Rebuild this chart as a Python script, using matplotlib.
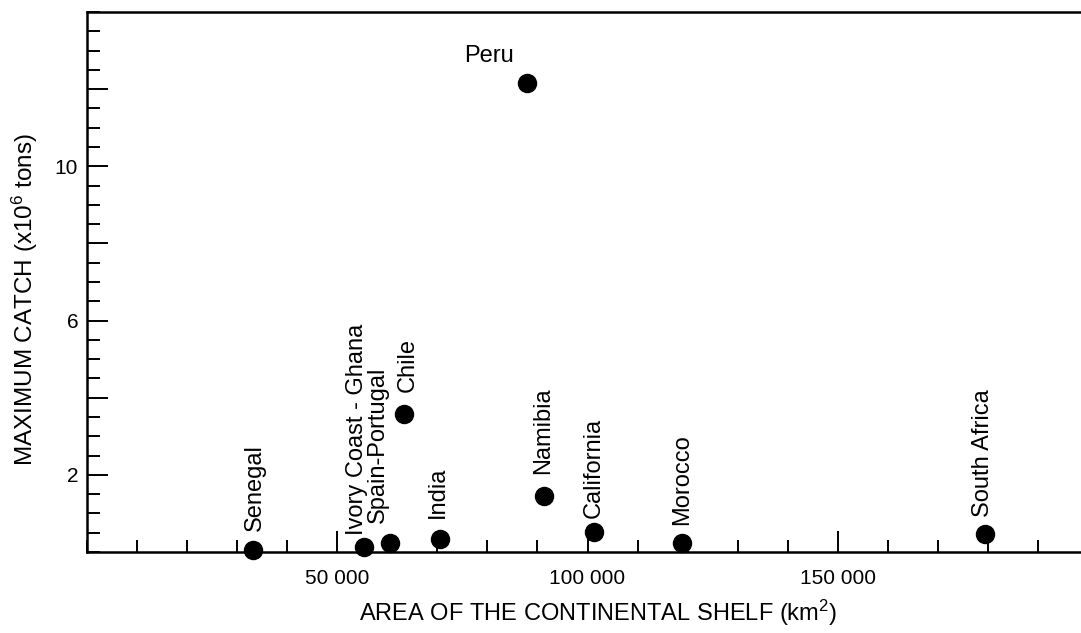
import matplotlib
matplotlib.use("Agg")
import matplotlib.pyplot as plt
from matplotlib.ticker import MultipleLocator, FixedLocator, FixedFormatter

plt.rcParams['font.family'] = ['Liberation Sans', 'DejaVu Sans']

# Continental shelf area (km^2) and maximum catch (millions of tons)
countries = ["Senegal", "Ivory Coast - Ghana", "Spain-Portugal", "Chile", "India",
             "Peru", "Namibia", "California", "Morocco", "South Africa"]
shelf_area = [33300, 55400, 60600, 63400, 70600, 88000, 91400, 101300, 118900, 179300]
max_catch = [0.04, 0.14, 0.23, 3.58, 0.33, 12.17, 1.44, 0.51, 0.23, 0.46]

x_tick_values = [50000, 100000, 150000]
x_tick_labels = ["50 000", "100 000", "150 000"]
y_tick_values = [2, 4, 6, 8, 10, 12]
y_tick_labels = ["2", "", "6", "", "10", ""]

# label placement: (dx, dy) in pixels, rotation, alignment
label_style = {
    "Senegal": (2, 19, 90, "center", "bottom"),
    "Ivory Coast - Ghana": (-7, 12, 90, "center", "bottom"),
    "Spain-Portugal": (-12, 20, 90, "center", "bottom"),
    "Chile": (4, 22, 90, "center", "bottom"),
    "India": (-2, 21, 90, "center", "bottom"),
    "Peru": (-14, 27, 0, "right", "center"),
    "Namibia": (-1, 22, 90, "center", "bottom"),
    "California": (0, 14, 90, "center", "bottom"),
    "Morocco": (0, 18, 90, "center", "bottom"),
    "South Africa": (-2, 17, 90, "center", "bottom"),
}

W, H = 1081, 633
fig = plt.figure(figsize=(W / 100, H / 100), dpi=100)
ax = fig.add_axes([86.5 / W, (H - 552) / H, 1002 / W, 540 / H])

ax.plot(shelf_area, max_catch, 'o', color='black', ms=13, clip_on=False, zorder=3)

for name, x, y in zip(countries, shelf_area, max_catch):
    dx, dy, rot, ha, va = label_style[name]
    ax.annotate(name, (x, y), xytext=(dx, dy), textcoords='offset pixels',
                rotation=rot, ha=ha, va=va, fontsize=17)

ax.set_xlim(0, 200000)
ax.set_ylim(0, 14)

ax.xaxis.set_major_locator(FixedLocator(x_tick_values))
ax.xaxis.set_major_formatter(FixedFormatter(x_tick_labels))
ax.xaxis.set_minor_locator(MultipleLocator(10000))
ax.yaxis.set_major_locator(FixedLocator(y_tick_values))
ax.yaxis.set_major_formatter(FixedFormatter(y_tick_labels))
ax.yaxis.set_minor_locator(MultipleLocator(0.5))

ax.tick_params(which='major', direction='in', length=15, width=1.4,
               labelsize=15, top=False, right=False)
ax.tick_params(axis='x', which='major', pad=12)
ax.tick_params(axis='y', which='major', pad=6)
ax.tick_params(which='minor', direction='in', length=9, width=1.4,
               top=False, right=False)

for side in ['left', 'bottom', 'top', 'right']:
    ax.spines[side].set_linewidth(1.8)

fig.text(598 / W, 1 - 613 / H, r"AREA OF THE CONTINENTAL SHELF (km$\mathregular{^2}$)",
         ha='center', va='center', fontsize=17)
fig.text(25 / W, 1 - 300 / H, r"MAXIMUM CATCH (x10$\mathregular{^6}$ tons)",
         ha='center', va='center', rotation=90, fontsize=17.5)

fig.savefig("out.png", dpi=100)
